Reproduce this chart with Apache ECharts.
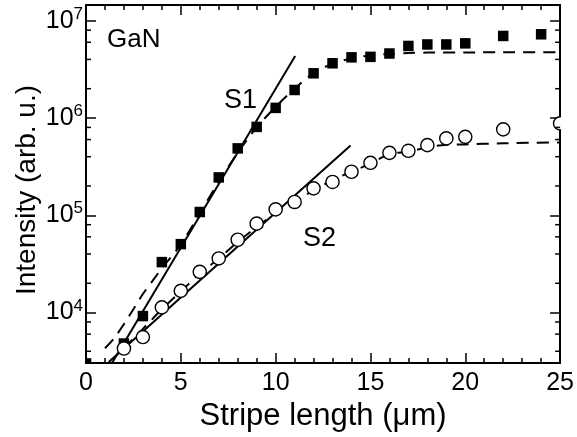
<!DOCTYPE html>
<html><head><meta charset="utf-8">
<script src="https://cdn.jsdelivr.net/npm/echarts@6/dist/echarts.min.js"></script>
<style>html,body{margin:0;padding:0;background:#fff}#c{width:577px;height:437px}</style>
</head><body><div id="c"></div>
<script>
// ---- data ----
const xTickValues = [0, 5, 10, 15, 20, 25];
const yMinorTicks = [4e3, 6e3, 8e3, 2e4, 4e4, 6e4, 8e4, 2e5, 4e5, 6e5, 8e5, 2e6, 4e6, 6e6, 8e6];

const s1X = [0, 2, 3, 4, 5, 6, 7, 8, 9, 10, 11, 12, 13, 14, 15, 16, 17, 18, 19, 20, 22, 24];
const s1Y = [3.0e3, 4.8e3, 9.2e3, 3.3e4, 5.05e4, 1.08e5, 2.45e5, 4.87e5, 8.1e5, 1.27e6, 1.94e6, 2.88e6,
             3.65e6, 4.2e6, 4.25e6, 4.6e6, 5.5e6, 5.7e6, 5.7e6, 5.85e6, 6.97e6, 7.25e6];

const s2X = [2, 3, 4, 5, 6, 7, 8, 9, 10, 11, 12, 13, 14, 15, 16, 17, 18, 19, 20, 22, 25];
const s2Y = [4.27e3, 5.6e3, 1.13e4, 1.67e4, 2.62e4, 3.6e4, 5.6e4, 8.2e4, 1.15e5, 1.37e5, 1.89e5, 2.2e5,
             2.8e5, 3.46e5, 4.38e5, 4.6e5, 5.26e5, 6.17e5, 6.4e5, 7.64e5, 8.8e5];

const fit1X = [1.3, 11.03];
const fit1Y = [2.87e3, 4.34e6];
const fit2X = [1.2, 13.95];
const fit2Y = [3.1e3, 5.2e5];

const dash1X = [1.0, 1.5, 2.0, 2.5, 3.0, 3.5, 4, 5, 6, 7, 8, 9, 10, 11, 12, 13, 14, 15, 16, 17, 18, 20, 22, 25];
const dash1Y = [4.3e3, 5.5e3, 7.6e3, 1.08e4, 1.55e4, 2.1e4, 2.85e4, 5.0e4, 1.05e5, 2.2e5, 4.4e5, 8.0e5, 1.3e6,
                2.0e6, 2.9e6, 3.6e6, 4.1e6, 4.4e6, 4.55e6, 4.65e6, 4.7e6, 4.72e6, 4.73e6, 4.73e6];

const dash2X = [2, 3, 4, 5, 6, 7, 8, 9, 10, 11, 12, 13, 14, 15, 16, 17, 18, 19, 20, 22, 25];
const dash2Y = [4.3e3, 6.8e3, 1.08e4, 1.65e4, 2.5e4, 3.6e4, 5.3e4, 7.6e4, 1.05e5, 1.4e5, 1.8e5, 2.3e5,
                2.8e5, 3.4e5, 4.25e5, 4.5e5, 5.0e5, 5.3e5, 5.35e5, 5.5e5, 5.6e5];

const yMin = 3.03e3, yMax = 1.45e7;
const xMin = 0, xMax = 25;

// ---- chart ----
const FONT = '"Liberation Sans", Arial, Helvetica, sans-serif';
const zip = (xs, ys) => xs.map((x, i) => [x, ys[i]]);
const chart = echarts.init(document.getElementById('c'), null, {renderer: 'canvas'});

const axisLineStyle = {show: true, onZero: false, lineStyle: {color: '#000', width: 2}};
const tickStyle = {show: true, inside: true, length: 10, lineStyle: {color: '#000', width: 1.5}};
const minorStyle = {show: true, splitNumber: 5, length: 5, lineStyle: {color: '#000', width: 1.5}};

function supLabel(v) {
  const e = Math.log10(v);
  const r = Math.round(e);
  if (Math.abs(e - r) > 1e-6) return '';
  return '{b|10}{s|' + r + '}';
}

function squareItem(params, api) {
  const p = api.coord([api.value(0), api.value(1)]);
  const s = 10.5;
  return {type: 'rect', shape: {x: p[0] - s / 2, y: p[1] - s / 2, width: s, height: s}, style: {fill: '#000'}};
}
function circleItem(params, api) {
  const p = api.coord([api.value(0), api.value(1)]);
  return {type: 'circle', shape: {cx: p[0], cy: p[1], r: 6.6}, style: {fill: '#fff', stroke: '#000', lineWidth: 1.4}};
}
function minorTickItem(params, api) {
  const cs = params.coordSys;
  const p = api.coord([xMin, api.value(0)]);
  const L = 5;
  return {type: 'group', children: [
    {type: 'line', shape: {x1: cs.x, y1: p[1], x2: cs.x + L, y2: p[1]}, style: {stroke: '#000', lineWidth: 1.5}},
    {type: 'line', shape: {x1: cs.x + cs.width, y1: p[1], x2: cs.x + cs.width - L, y2: p[1]}, style: {stroke: '#000', lineWidth: 1.5}}
  ]};
}

const option = {
  animation: false,
  backgroundColor: '#fff',
  textStyle: {fontFamily: FONT},
  grid: {left: 86, right: 12, top: 5, bottom: 74},
  xAxis: [
    {type: 'value', min: xMin, max: xMax, interval: 5, position: 'bottom',
     axisLine: axisLineStyle, axisTick: tickStyle, minorTick: minorStyle, splitLine: {show: false},
     axisLabel: {fontSize: 25, color: '#000', margin: 8, fontFamily: FONT,
                 formatter: v => (xTickValues.indexOf(v) >= 0 ? String(v) : '')},
     name: 'Stripe length (\u03bcm)', nameLocation: 'middle', nameGap: 30,
     nameTextStyle: {fontSize: 31, color: '#000', fontFamily: FONT}},
    {type: 'value', min: xMin, max: xMax, interval: 5, position: 'top',
     axisLine: axisLineStyle, axisTick: tickStyle, minorTick: minorStyle, splitLine: {show: false},
     axisLabel: {show: false}}
  ],
  yAxis: [
    {type: 'log', min: yMin, max: yMax, position: 'left',
     axisLine: axisLineStyle, axisTick: tickStyle, splitLine: {show: false},
     axisLabel: {color: '#000', margin: 3, formatter: supLabel,
                 rich: {b: {fontSize: 25, fontFamily: FONT, color: '#000', lineHeight: 30},
                        s: {fontSize: 17, fontFamily: FONT, color: '#000', verticalAlign: 'top', lineHeight: 17}}}},
    {type: 'log', min: yMin, max: yMax, position: 'right',
     axisLine: axisLineStyle, axisTick: tickStyle, splitLine: {show: false},
     axisLabel: {show: false}}
  ],
  series: [
    {type: 'custom', name: 'yminor', renderItem: minorTickItem, data: yMinorTicks.map(v => [v]),
     encode: {y: 0}, clip: false, silent: true, z: 5},
    {type: 'line', name: 'fit1', data: zip(fit1X, fit1Y), showSymbol: false, symbol: 'none', clip: true,
     lineStyle: {color: '#000', width: 2}, z: 3},
    {type: 'line', name: 'fit2', data: zip(fit2X, fit2Y), showSymbol: false, symbol: 'none', clip: true,
     lineStyle: {color: '#000', width: 2}, z: 3},
    {type: 'line', name: 'dash1', data: zip(dash1X, dash1Y), showSymbol: false, symbol: 'none', clip: true, smooth: 0.3,
     lineStyle: {color: '#000', width: 2, type: [12, 8]}, z: 3},
    {type: 'line', name: 'dash2', data: zip(dash2X, dash2Y), showSymbol: false, symbol: 'none', clip: true, smooth: 0.3,
     lineStyle: {color: '#000', width: 2, type: [12, 8]}, z: 3},
    {type: 'custom', name: 'S1', renderItem: squareItem, data: zip(s1X, s1Y), encode: {x: 0, y: 1}, clip: true, z: 4},
    {type: 'custom', name: 'S2', renderItem: circleItem, data: zip(s2X, s2Y), encode: {x: 0, y: 1}, clip: true, z: 4}
  ],
  graphic: [
    {type: 'text', x: 27, y: 190, rotation: Math.PI / 2,
     style: {text: 'Intensity (arb. u.)', fontSize: 28, fontFamily: FONT, fill: '#000', align: 'center', verticalAlign: 'middle'}},
    {type: 'text', left: 107, top: 27, style: {text: 'GaN', fontSize: 26, fontFamily: FONT, fill: '#000'}},
    {type: 'text', left: 224, top: 87, style: {text: 'S1', fontSize: 27, fontFamily: FONT, fill: '#000'}},
    {type: 'text', left: 303, top: 225, style: {text: 'S2', fontSize: 27, fontFamily: FONT, fill: '#000'}}
  ]
};
chart.setOption(option);
</script>
</body></html>
